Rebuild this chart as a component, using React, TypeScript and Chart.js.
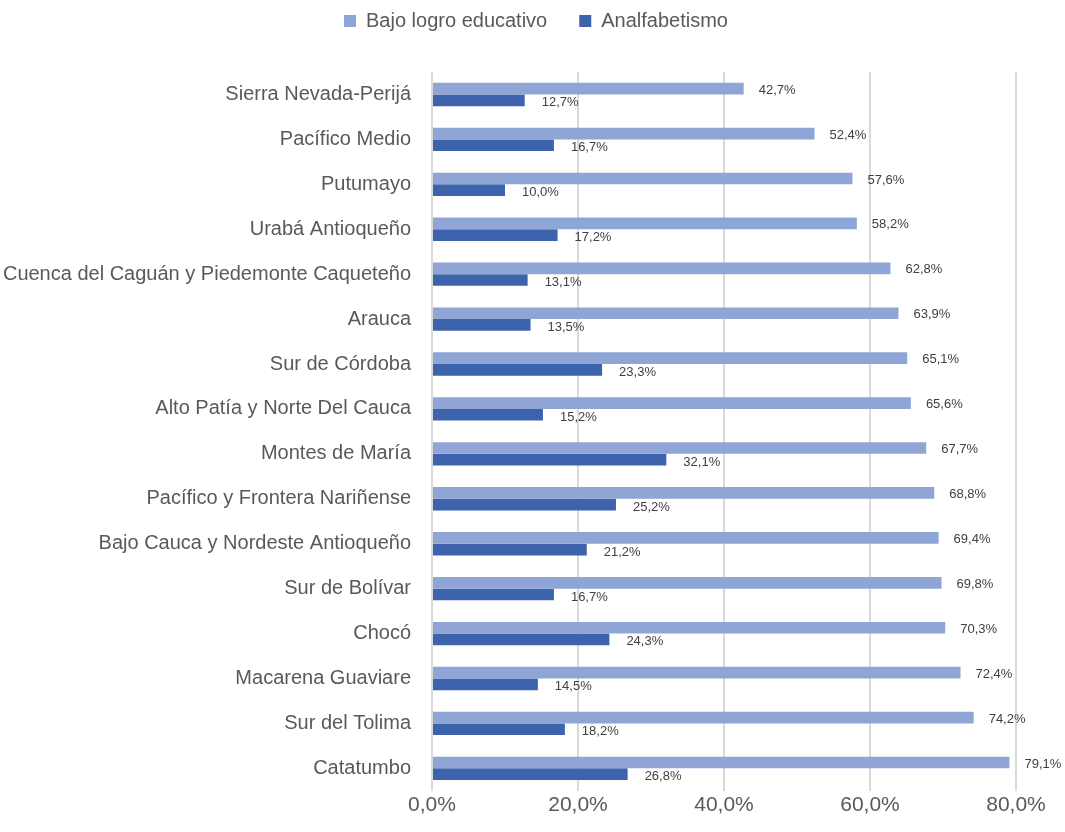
import React, { useEffect, useRef } from 'react';
import { Chart, registerables } from 'chart.js';

Chart.register(...registerables);

const categories = [
  'Sierra Nevada-Perijá',
  'Pacífico Medio',
  'Putumayo',
  'Urabá Antioqueño',
  'Cuenca del Caguán y Piedemonte Caqueteño',
  'Arauca',
  'Sur de Córdoba',
  'Alto Patía y Norte Del Cauca',
  'Montes de María',
  'Pacífico y Frontera Nariñense',
  'Bajo Cauca y Nordeste Antioqueño',
  'Sur de Bolívar',
  'Chocó',
  'Macarena Guaviare',
  'Sur del Tolima',
  'Catatumbo',
];

const bajoLogroEducativo = [42.7, 52.4, 57.6, 58.2, 62.8, 63.9, 65.1, 65.6, 67.7, 68.8, 69.4, 69.8, 70.3, 72.4, 74.2, 79.1];
const analfabetismo = [12.7, 16.7, 10.0, 17.2, 13.1, 13.5, 23.3, 15.2, 32.1, 25.2, 21.2, 16.7, 24.3, 14.5, 18.2, 26.8];

const xTickValues = [0, 20, 40, 60, 80];

const FONT = "'Liberation Sans Narrow', 'Arial Narrow', 'Liberation Sans', Arial, sans-serif";

const fmt = (v: number) => v.toFixed(1).replace('.', ',') + '%';

const dataLabels = {
  id: 'dataLabels',
  afterDatasetsDraw(chart: any) {
    const ctx = chart.ctx;
    ctx.save();
    ctx.font = `13px ${FONT}`;
    ctx.fillStyle = '#404040';
    ctx.textAlign = 'left';
    ctx.textBaseline = 'middle';
    chart.data.datasets.forEach((ds: any, di: number) => {
      const meta = chart.getDatasetMeta(di);
      meta.data.forEach((el: any, i: number) => {
        const v = ds.data[i] as number;
        ctx.fillText(fmt(v), el.x + (di === 0 ? 15 : 17), el.y + (di === 0 ? 1.5 : 2.5));
      });
    });
    ctx.restore();
  },
};

const legendPlacement = {
  id: 'legendPlacement',
  beforeInit(chart: any) {
    const legend = chart.legend;
    if (!legend) return;
    const orig = legend.fit;
    legend.fit = function () {
      orig.call(this);
      this.height = 72;
    };
  },
  afterLayout(chart: any) {
    const legend = chart.legend;
    if (!legend) return;
    legend.top -= 21;
    legend.bottom -= 21;
    legend.left += 28;
    legend.right += 28;
  },
};

export default function App() {
  const ref = useRef<HTMLCanvasElement | null>(null);

  useEffect(() => {
    if (!ref.current) return;
    const chart = new Chart(ref.current, {
      type: 'bar',
      data: {
        labels: categories,
        datasets: [
          {
            label: 'Bajo logro educativo',
            data: bajoLogroEducativo,
            backgroundColor: '#8FA5D6',
            borderWidth: 0,
            categoryPercentage: 0.52,
            barPercentage: 1,
          },
          {
            label: 'Analfabetismo',
            data: analfabetismo,
            backgroundColor: '#3C63AC',
            borderWidth: 0,
            categoryPercentage: 0.52,
            barPercentage: 1,
          },
        ],
      },
      options: {
        indexAxis: 'y',
        responsive: false,
        animation: false,
        layout: { padding: { left: 0, right: 49, top: 0, bottom: 12 } },
        plugins: {
          legend: {
            position: 'top',
            labels: {
              boxWidth: 12,
              boxHeight: 12,
              color: '#595959',
              padding: 32,
              font: { family: FONT, size: 20 },
            },
          },
          tooltip: { enabled: false },
        },
        scales: {
          x: {
            min: 0,
            max: 80,
            afterBuildTicks(scale: any) {
              scale.ticks = xTickValues.map((v) => ({ value: v }));
            },
            grid: { color: '#D9D9D9', lineWidth: 2, drawTicks: false },
            border: { display: false },
            ticks: {
              color: '#595959',
              padding: 2,
              font: { family: FONT, size: 21 },
              callback: (v: any) => fmt(Number(v)),
            },
          },
          y: {
            afterFit(scale: any) {
              scale.width = 432;
            },
            grid: { display: false, drawTicks: false },
            border: { display: false },
            ticks: {
              color: '#595959',
              padding: 21,
              font: { family: FONT, size: 20 },
            },
          },
        },
      },
      plugins: [dataLabels, legendPlacement],
    } as any);
    return () => chart.destroy();
  }, []);

  return (
    <div style={{ position: 'absolute', left: 0, top: 0, width: 1065, height: 832, background: '#fff' }}>
      <canvas ref={ref} width={1065} height={832} />
    </div>
  );
}
